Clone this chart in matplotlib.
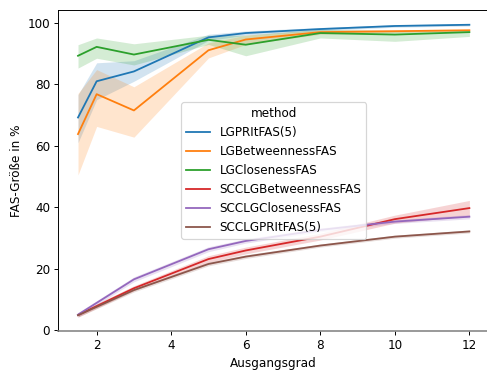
import matplotlib
matplotlib.use("Agg")
import matplotlib.pyplot as plt

DPI = 86.4

methods = ["LGPRItFAS(5)", "LGBetweennessFAS", "LGClosenessFAS",
           "SCCLGBetweennessFAS", "SCCLGClosenessFAS", "SCCLGPRItFAS(5)"]
colors = ["#1f77b4", "#ff7f0e", "#2ca02c", "#d62728", "#9467bd", "#8c564b"]

# out-degree values that were measured
degree_lg = [1.5, 2, 3, 5, 6, 8, 10, 12]
degree_scc = [1.5, 3, 5, 6, 8, 10, 12]

# mean FAS size in % per method
lg_pr = [69.2, 81.0, 84.2, 95.3, 96.7, 98.0, 99.0, 99.4]
lg_betw = [63.8, 76.8, 71.5, 91.1, 94.6, 97.0, 97.3, 97.6]
lg_clos = [89.3, 92.2, 89.7, 94.5, 92.9, 96.7, 96.2, 97.0]
scc_betw = [4.9, 13.6, 23.1, 25.9, 30.4, 36.1, 39.7]
scc_clos = [5.0, 16.5, 26.3, 29.0, 32.6, 35.3, 36.9]
scc_pr = [4.8, 13.0, 21.5, 23.9, 27.5, 30.4, 32.1]

# confidence band (lower, upper)
lg_pr_lo = [61.0, 75.0, 81.0, 94.3, 96.0, 97.5, 98.6, 99.0]
lg_pr_hi = [76.6, 87.0, 87.7, 96.3, 97.4, 98.5, 99.4, 99.8]
lg_betw_lo = [50.5, 66.3, 62.8, 88.6, 93.0, 96.3, 96.8, 97.2]
lg_betw_hi = [77.0, 84.8, 79.2, 93.5, 96.0, 97.7, 97.8, 98.0]
lg_clos_lo = [85.3, 88.5, 86.3, 93.0, 89.3, 95.1, 94.0, 95.6]
lg_clos_hi = [92.9, 95.1, 93.2, 96.0, 96.0, 98.0, 97.5, 97.8]
scc_betw_lo = [4.2, 12.8, 22.0, 24.8, 29.3, 34.8, 37.2]
scc_betw_hi = [5.6, 14.4, 24.2, 27.0, 31.5, 37.4, 42.2]
scc_clos_lo = [4.3, 15.7, 25.5, 28.3, 32.0, 34.7, 36.2]
scc_clos_hi = [5.7, 17.3, 27.1, 29.7, 33.2, 35.9, 37.6]
scc_pr_lo = [4.2, 12.4, 20.9, 23.3, 27.0, 29.9, 31.6]
scc_pr_hi = [5.4, 13.6, 22.1, 24.5, 28.0, 30.9, 32.6]

xs_all = [degree_lg] * 3 + [degree_scc] * 3
means = [lg_pr, lg_betw, lg_clos, scc_betw, scc_clos, scc_pr]
lows = [lg_pr_lo, lg_betw_lo, lg_clos_lo, scc_betw_lo, scc_clos_lo, scc_pr_lo]
highs = [lg_pr_hi, lg_betw_hi, lg_clos_hi, scc_betw_hi, scc_clos_hi, scc_pr_hi]

fig = plt.figure(figsize=(487 / DPI, 371 / DPI), dpi=DPI)
ax = fig.add_axes([0.120, 0.108, 0.884, 0.865])

for xs, mean, lo, hi, color, name in zip(xs_all, means, lows, highs,
                                          colors, methods):
    ax.fill_between(xs, lo, hi, color=color, alpha=0.2, linewidth=0)
    ax.plot(xs, mean, color=color, linewidth=1.5, label=name)

ax.set_xlim(0.975, 12.525)
ax.set_ylim(-0.3, 104.2)
ax.set_xticks([2, 4, 6, 8, 10, 12])
ax.set_yticks([0, 20, 40, 60, 80, 100])
ax.spines["right"].set_visible(False)
ax.spines["bottom"].set_color("#808080")
ax.spines["bottom"].set_linewidth(1.3)
ax.set_xlabel("Ausgangsgrad")
ax.set_ylabel("FAS-Größe in %")
ax.legend(title="method", loc="center")

fig.savefig("out.png", dpi=DPI)
